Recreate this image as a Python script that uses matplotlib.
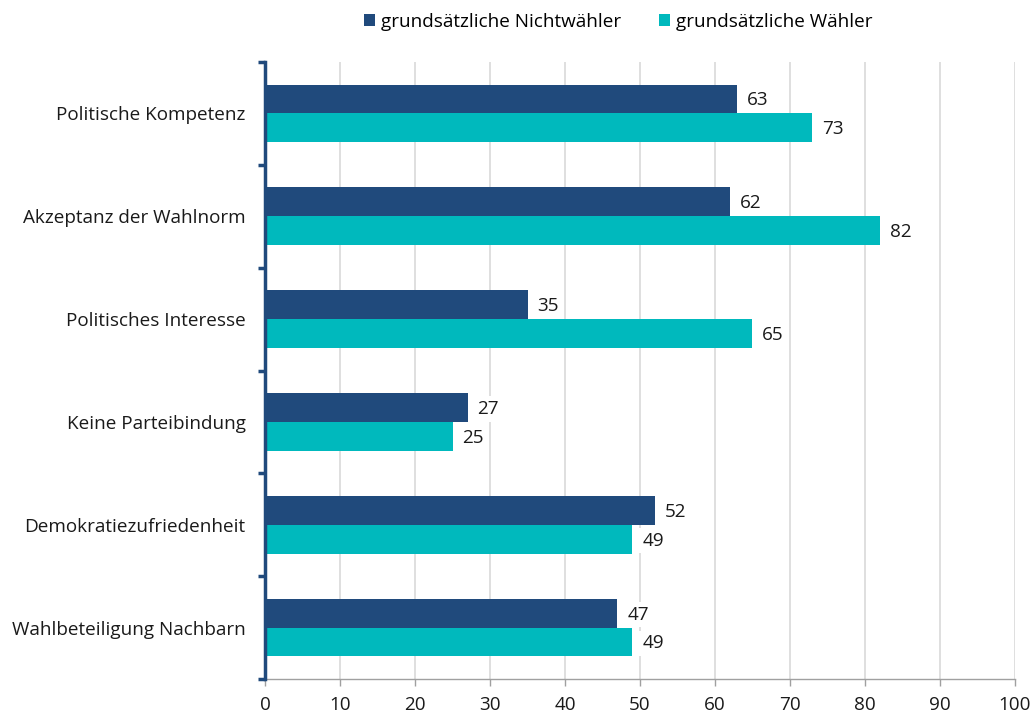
import matplotlib.pyplot as plt
import numpy as np

plt.rcParams['font.family'] = ['Open Sans', 'DejaVu Sans']

categories = ["Politische Kompetenz", "Akzeptanz der Wahlnorm", "Politisches Interesse",
              "Keine Parteibindung", "Demokratiezufriedenheit", "Wahlbeteiligung Nachbarn"]
nichtwaehler = [63, 62, 35, 27, 52, 47]
waehler = [73, 82, 65, 25, 49, 49]
series_names = ["grundsätzliche Nichtwähler", "grundsätzliche Wähler"]
xticks = list(range(0, 101, 10))

dark = "#204a7c"
teal = "#00b9bd"
fs = 13.6

fig = plt.figure(figsize=(10.32, 7.15), dpi=100)
ax = fig.add_axes([0.2568, 0.0503, 0.9835 - 0.2568, 0.9133 - 0.0503])

y = np.arange(len(categories))
h = 0.28
b1 = ax.barh(y - h / 2, nichtwaehler, height=h, color=dark, label=series_names[0], zorder=3)
b2 = ax.barh(y + h / 2, waehler, height=h, color=teal, label=series_names[1], zorder=3)

for bars, vals in ((b1, nichtwaehler), (b2, waehler)):
    for bar, v in zip(bars, vals):
        ax.annotate(str(v), (bar.get_width(), bar.get_y() + bar.get_height() / 2),
                    xytext=(7, -1), textcoords="offset points", va="center", ha="left",
                    fontsize=fs, color="#1a1a1a", zorder=4,
                    bbox=dict(boxstyle="square,pad=0.2", fc="white", ec="none"))

ax.set_xlim(0, 100)
ax.set_ylim(len(categories) - 0.5, -0.5)
ax.set_xticks(xticks)
ax.set_yticks(y)
ax.set_yticklabels(categories)
ax.set_yticks(np.arange(-0.5, len(categories)), minor=True)
ax.tick_params(axis="y", which="major", length=0, pad=14, labelsize=fs, labelcolor="#1a1a1a")
ax.tick_params(axis="y", which="minor", length=5, width=2.5, color=dark)
ax.tick_params(axis="x", length=5, width=1, color="#a0a0a0", labelsize=fs, labelcolor="#1a1a1a", pad=7)

ax.grid(axis="x", color="#d9d9d9", linewidth=1.2, zorder=0)
for s in ("top", "right"):
    ax.spines[s].set_visible(False)
ax.spines["left"].set_color(dark)
ax.spines["left"].set_linewidth(2.5)
ax.spines["left"].set_zorder(5)
ax.spines["bottom"].set_color("#a0a0a0")
ax.spines["bottom"].set_linewidth(1)

fig.legend(loc="upper center", bbox_to_anchor=(0.599, 1.006), ncol=2, frameon=False, fontsize=fs,
           handlelength=0.6, handleheight=0.6, handletextpad=0.3, columnspacing=2.0)

fig.savefig("out.png", dpi=100)
